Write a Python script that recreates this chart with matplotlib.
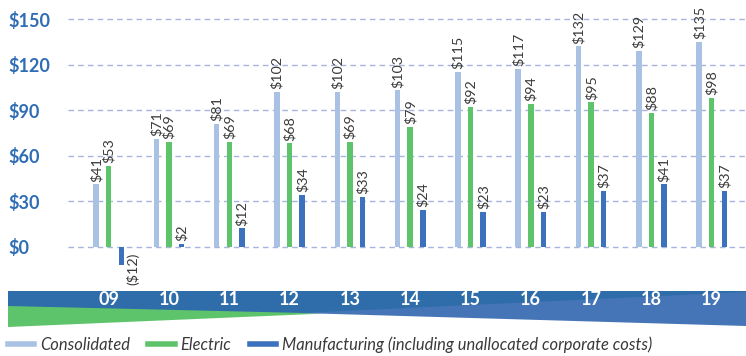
import matplotlib
matplotlib.use("Agg")
import matplotlib.pyplot as plt
from matplotlib.lines import Line2D
from matplotlib.patches import Polygon
import matplotlib.transforms as mtransforms

years = ["09", "10", "11", "12", "13", "14", "15", "16", "17", "18", "19"]
consolidated = [41, 71, 81, 102, 102, 103, 115, 117, 132, 129, 135]
electric = [53, 69, 69, 68, 69, 79, 92, 94, 95, 88, 98]
manufacturing = [-12, 2, 12, 34, 33, 24, 23, 23, 37, 41, 37]
yticks = [0, 30, 60, 90, 120, 150]

c_cons = "#a9c1e3"
c_elec = "#5ec46b"
c_manu = "#3c72bd"
c_band = "#2f6caa"
c_wedge = "#4575b7"
c_tick = "#2f6db5"
c_text = "#3a3a3a"

plt.rcParams["font.family"] = ["Lato", "DejaVu Sans"]

W, H = 746, 356
fig = plt.figure(figsize=(W / 100, H / 100), dpi=100)

# main plot area in pixel terms: left 68, top 0, bottom 290
ax = fig.add_axes([68 / W, (H - 290) / H, 1 - 68 / W, 290 / H])
px = 60.3
ax.set_xlim(-40.7 / px, (746 - 108.7) / px)
ppu = 227.5 / 150
ax.set_ylim(-(290 - 246.7) / ppu, 150 + 19 / ppu)

off = 12.6 / px
bw = 5.5 / px
xs = list(range(len(years)))
series = [(consolidated, -off, c_cons), (electric, 0, c_elec), (manufacturing, off, c_manu)]
for vals, dx, col in series:
    pos = [x + dx for x in xs]
    ax.bar(pos, vals, width=bw, color=col, zorder=3)
    for p, v in zip(pos, vals):
        if v >= 0:
            ax.annotate(f"${v}", (p, v), xytext=(0, 2), textcoords="offset points",
                        rotation=90, ha="center", va="bottom", fontsize=10.3,
                        color=c_text, zorder=4)
        else:
            # negative values get their label beside the bar, below the zero line
            ax.annotate(f"(${-v})", (p, 0), xytext=(8.5, -4), textcoords="offset points",
                        rotation=90, ha="center", va="top", fontsize=10.3,
                        color=c_text, zorder=4)

ax.set_yticks(yticks)
ax.set_yticklabels([f"${t}" for t in yticks])
ax.tick_params(axis="y", length=0, pad=43, labelsize=13, labelcolor=c_tick)
for lab in ax.get_yticklabels():
    lab.set_horizontalalignment("left")
    lab.set_fontweight("bold")
ax.set_xticks([])
ax.grid(axis="y", color="#a7b4de", linestyle=(0, (4, 3)), linewidth=1, zorder=0)
for s in ax.spines.values():
    s.set_visible(False)

# banner strip under the bars
bg = fig.add_axes([0, 0, 1, 1], zorder=-1)
bg.set_xlim(0, W)
bg.set_ylim(H, 0)
bg.axis("off")
bg.add_patch(Polygon([(8, 291), (746, 291), (746, 313), (8, 313)], closed=True,
                     color=c_band, lw=0))
bg.add_patch(Polygon([(8, 306), (325, 313.5), (8, 327)], closed=True,
                     color=c_elec, lw=0))
bg.add_patch(Polygon([(300, 313), (746, 292), (746, 326)], closed=True,
                     color=c_wedge, lw=0))

trans = mtransforms.blended_transform_factory(ax.transData, fig.transFigure)
for x, y in zip(xs, years):
    ax.text(x, (H - 299.5) / H, y, transform=trans, ha="center", va="center",
            color="white", fontsize=13, fontweight="bold", zorder=5, clip_on=False)

handles = [Line2D([], [], color=c_cons, lw=4),
           Line2D([], [], color=c_elec, lw=4),
           Line2D([], [], color=c_manu, lw=4)]
labels = ["Consolidated", "Electric",
          "Manufacturing (including unallocated corporate costs)"]
fig.legend(handles, labels, loc="center left", bbox_to_anchor=(8 / W, 11 / H),
           ncol=3, frameon=False, borderpad=0, borderaxespad=0,
           handlelength=1.6, handletextpad=0.35, columnspacing=1.1,
           prop={"style": "italic", "size": 11.9}, labelcolor=c_text)

fig.savefig("out.png", dpi=100)
